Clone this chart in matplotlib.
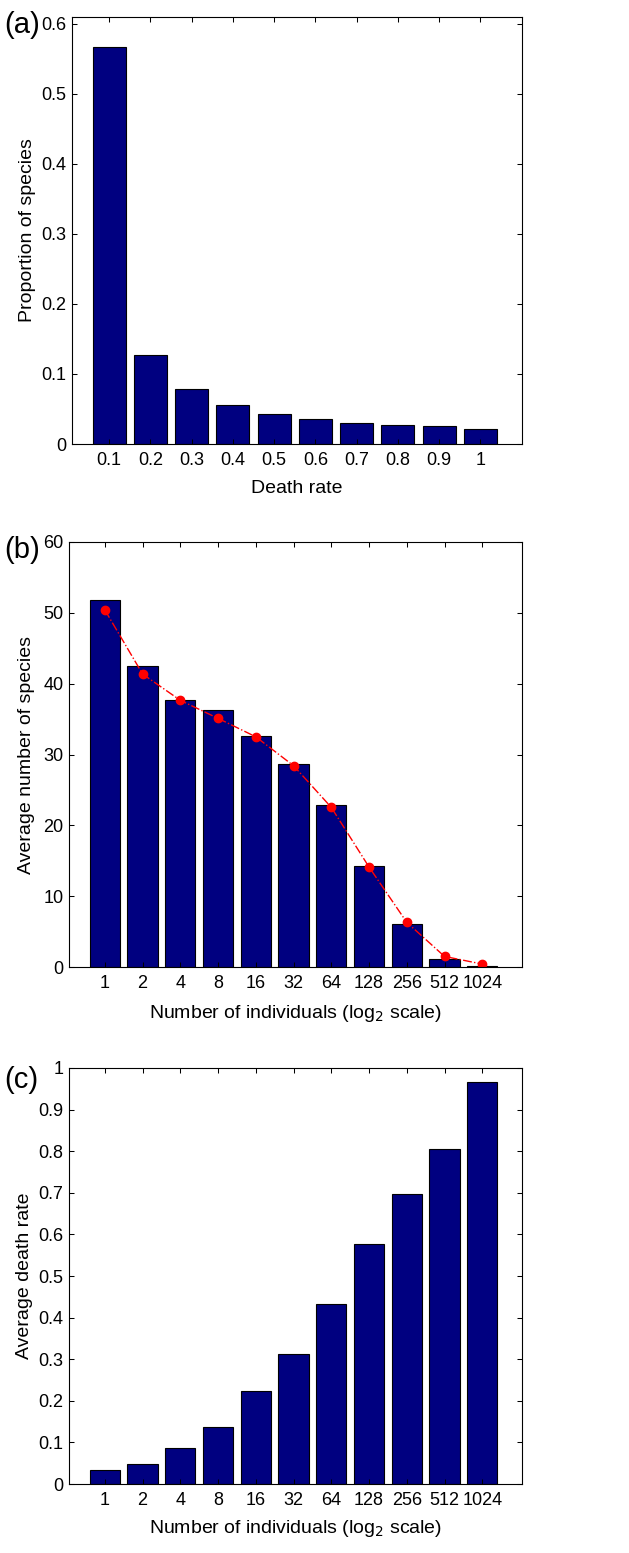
import matplotlib
matplotlib.use("Agg")
import matplotlib.pyplot as plt
import numpy as np

# panel (a)
death_rates = [0.1, 0.2, 0.3, 0.4, 0.5, 0.6, 0.7, 0.8, 0.9, 1.0]
death_labels = ["0.1", "0.2", "0.3", "0.4", "0.5", "0.6", "0.7", "0.8", "0.9", "1"]
prop_species = [0.567, 0.127, 0.079, 0.0557, 0.0433, 0.0362, 0.0305, 0.0271, 0.0252, 0.0214]

# panel (b) and (c)
size_labels = ["1", "2", "4", "8", "16", "32", "64", "128", "256", "512", "1024"]
avg_species = [51.86, 42.54, 37.74, 36.33, 32.61, 28.7, 22.92, 14.31, 6.02, 1.08, 0.19]
fit_species = [50.4, 41.36, 37.65, 35.1, 32.5, 28.42, 22.54, 14.12, 6.31, 1.5, 0.42]
avg_death = [0.0345, 0.0489, 0.0873, 0.1378, 0.2244, 0.3125, 0.4327, 0.5769, 0.6963, 0.8053, 0.9671]

plt.rcParams['font.family'] = ['Liberation Sans', 'DejaVu Sans']
navy = '#000080'

fig = plt.figure(figsize=(6.29, 15.53), dpi=100)
ax_a = fig.add_axes([0.1145, 0.7141, 0.715, 0.275])
ax_b = fig.add_axes([0.1097, 0.3773, 0.720, 0.2737])
ax_c = fig.add_axes([0.1097, 0.0444, 0.720, 0.2679])


def style(ax):
    ax.tick_params(direction='in', length=3.6, width=0.75, top=True, right=True,
                   labelsize=13)
    ax.tick_params(axis='x', pad=6)
    ax.tick_params(axis='y', pad=4)
    for s in ax.spines.values():
        s.set_linewidth(0.8)


# (a)
ax_a.bar(death_rates, prop_species, width=0.08, color=navy, edgecolor='black', linewidth=0.8)
ax_a.set_xlim(0.01, 1.1)
ax_a.set_ylim(0, 0.61)
ax_a.set_xticks(death_rates)
ax_a.set_xticklabels(death_labels)
ax_a.set_yticks([0, 0.1, 0.2, 0.3, 0.4, 0.5, 0.6])
ax_a.set_yticklabels(["0", "0.1", "0.2", "0.3", "0.4", "0.5", "0.6"])
ax_a.set_xlabel("Death rate", fontsize=14, labelpad=8)
ax_a.set_ylabel("Proportion of species", fontsize=14, labelpad=4)
style(ax_a)

# (b)
xb = np.arange(1, len(size_labels) + 1)
ax_b.bar(xb, avg_species, width=0.8, color=navy, edgecolor='black', linewidth=0.8)
ax_b.plot(xb, fit_species, linestyle='-.', color='red', linewidth=1,
          marker='o', markersize=6, markerfacecolor='red', markeredgecolor='red')
ax_b.set_xlim(0.05, 12.05)
ax_b.set_ylim(0, 60)
ax_b.set_xticks(xb)
ax_b.set_xticklabels(size_labels)
ax_b.set_yticks(range(0, 61, 10))
ax_b.set_xlabel("Number of individuals (log$_2$ scale)", fontsize=14, labelpad=8)
ax_b.set_ylabel("Average number of species", fontsize=14, labelpad=6)
style(ax_b)

# (c)
ax_c.bar(xb, avg_death, width=0.8, color=navy, edgecolor='black', linewidth=0.8)
ax_c.set_xlim(0.05, 12.05)
ax_c.set_ylim(0, 1)
ax_c.set_xticks(xb)
ax_c.set_xticklabels(size_labels)
ax_c.set_yticks(np.arange(0, 1.01, 0.1))
ax_c.set_yticklabels(["0", "0.1", "0.2", "0.3", "0.4", "0.5", "0.6", "0.7", "0.8", "0.9", "1"])
ax_c.set_xlabel("Number of individuals (log$_2$ scale)", fontsize=14, labelpad=6)
ax_c.set_ylabel("Average death rate", fontsize=14, labelpad=4)
style(ax_c)

for lab, yc in [("(a)", 25), ("(b)", 550), ("(c)", 1080)]:
    fig.text(4 / 629, 1 - yc / 1553, lab, fontsize=21, va='center', ha='left')

fig.savefig("out.png", dpi=100)
